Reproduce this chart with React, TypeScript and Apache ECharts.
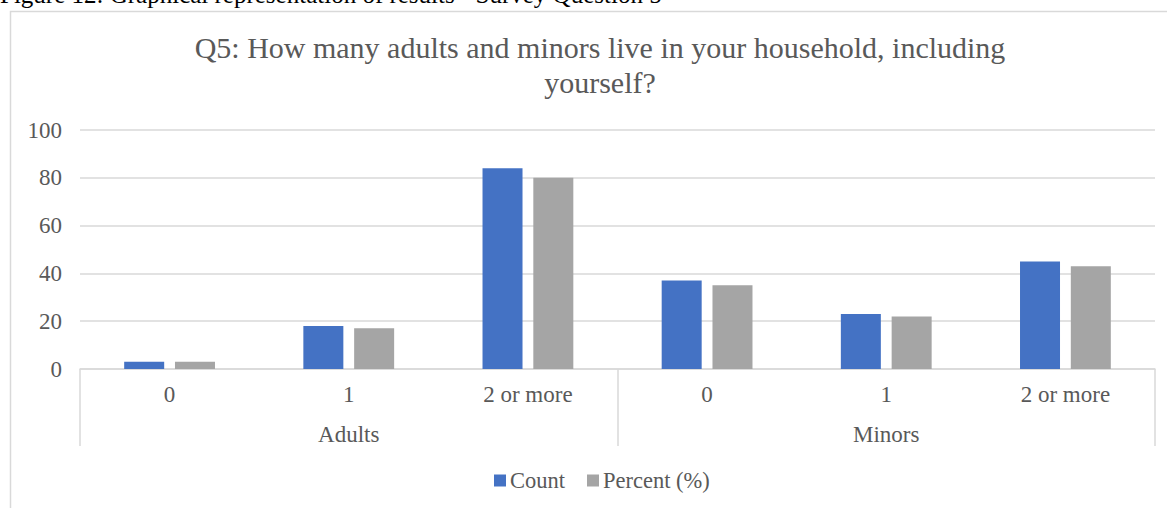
import React, { useEffect, useRef } from "react";
import * as echarts from "echarts";

const categories = ["0", "1", "2 or more", "0", "1", "2 or more"];
const groups = ["Adults", "Minors"];
const countValues = [3, 18, 84, 37, 23, 45];
const percentValues = [3, 17, 80, 35, 22, 43];
const yTicks = { min: 0, max: 100, interval: 20 };
const titleText = "Q5: How many adults and minors live in your household, including\nyourself?";
const captionText = "Figure 12: Graphical representation of results - Survey Question 5";

const FONT = "'Liberation Serif', 'Times New Roman', serif";

export default function App() {
  const ref = useRef<HTMLDivElement>(null);
  useEffect(() => {
    if (!ref.current) return;
    const chart = echarts.init(ref.current, null, { renderer: "svg" });
    chart.setOption({
      animation: false,
      textStyle: { fontFamily: FONT },
      title: {
        text: titleText,
        left: 595,
        textAlign: "center",
        top: 25,
        textStyle: {
          fontFamily: FONT,
          fontSize: 30,
          fontWeight: "normal",
          color: "#595959",
          lineHeight: 35,
        },
      },
      graphic: [
        {
          type: "rect",
          shape: { x: 10.5, y: 11.5, width: 1300, height: 700 },
          style: { fill: "none", stroke: "#d9d9d9", lineWidth: 1.5 },
          silent: true,
          z: -1,
        },
        {
          type: "text",
          x: 0,
          y: 7,
          style: {
            text: captionText,
            font: `25px ${FONT}`,
            fill: "#000",
            verticalAlign: "bottom",
          },
          silent: true,
        },
      ],
      legend: {
        bottom: 11,
        left: 489,
        itemWidth: 12,
        itemHeight: 12,
        itemGap: 22,
        icon: "rect",
        textStyle: { fontFamily: FONT, fontSize: 22.5, color: "#595959", padding: [0, 0, 0, -1] },
        data: ["Count", "Percent (%)"],
      },
      grid: { left: 80, right: 12, top: 130, bottom: 139, containLabel: false },
      xAxis: [
        {
          type: "category",
          data: categories,
          position: "bottom",
          axisLine: { show: true, lineStyle: { color: "#d9d9d9", width: 1.5 } },
          axisTick: { show: false },
          axisLabel: { fontFamily: FONT, fontSize: 23, color: "#595959", margin: 14, interval: 0 },
        },
        {
          type: "category",
          data: groups,
          position: "bottom",
          axisLine: { show: false },
          axisTick: { show: true, length: 77, lineStyle: { color: "#d9d9d9", width: 1.5 } },
          axisLabel: { fontFamily: FONT, fontSize: 23, color: "#595959", margin: 54 },
        },
      ],
      yAxis: {
        type: "value",
        min: yTicks.min,
        max: yTicks.max,
        interval: yTicks.interval,
        axisLine: { show: false },
        axisTick: { show: false },
        axisLabel: { fontFamily: FONT, fontSize: 23, color: "#595959", margin: 18 },
        splitLine: { lineStyle: { color: "#d9d9d9", width: 1.5 } },
      },
      series: [
        {
          name: "Count",
          type: "bar",
          xAxisIndex: 0,
          data: countValues,
          barWidth: 40,
          barGap: "27%",
          itemStyle: { color: "#4472C4" },
        },
        {
          name: "Percent (%)",
          type: "bar",
          xAxisIndex: 0,
          data: percentValues,
          barWidth: 40,
          barGap: "27%",
          itemStyle: { color: "#A5A5A5" },
        },
      ],
    });
    return () => chart.dispose();
  }, []);
  return (
    <div
      ref={ref}
      style={{ position: "absolute", left: 0, top: 0, width: 1167, height: 508, background: "#fff" }}
    />
  );
}
